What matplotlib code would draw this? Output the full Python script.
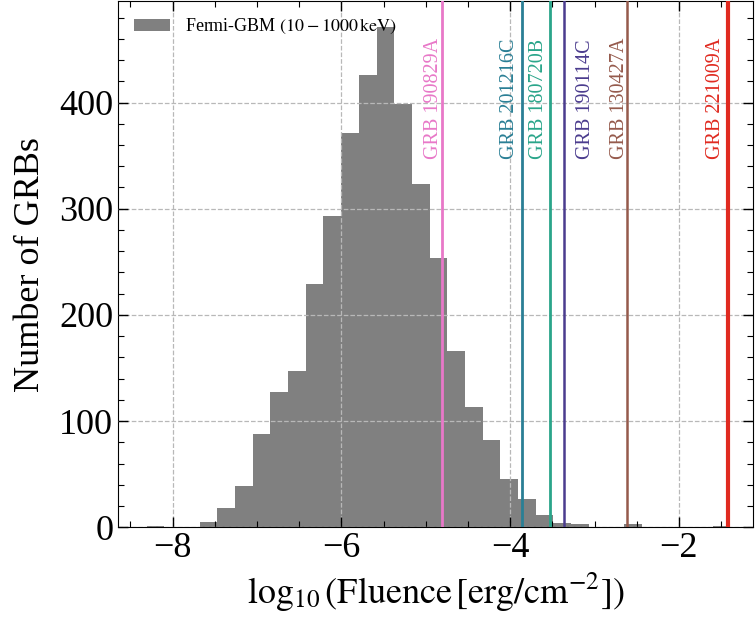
import numpy as np
import matplotlib.pyplot as plt
from matplotlib.ticker import MultipleLocator

plt.rcParams['font.family'] = ['Liberation Serif', 'DejaVu Serif']
plt.rcParams['mathtext.fontset'] = 'stix'

# histogram of Fermi-GBM fluences
bin_start = -8.31
bin_width = 0.2097
counts = [1, 0, 0, 5, 18, 39, 88, 127, 147, 229, 293, 371, 426, 471, 399,
          323, 254, 166, 113, 82, 45, 27, 12, 4, 3, 0, 0, 3, 0, 0, 0, 0, 1]
edges = bin_start + bin_width * np.arange(len(counts) + 1)

# bright GRBs
grb_names = ['GRB 190829A', 'GRB 201216C', 'GRB 180720B',
             'GRB 190114C', 'GRB 130427A', 'GRB 221009A']
grb_fluence = [-4.81, -3.865, -3.526, -3.356, -2.609, -1.412]
grb_colors = ['#e878c8', '#2a7f95', '#2aa58a', '#4b3c8e', '#955a4c', '#e02a20']
grb_lw = [2, 2, 2, 1.8, 1.8, 3]
label_dx = [-0.10, -0.148, -0.132, 0.245, -0.097, -0.157]

fig = plt.figure(figsize=(7.55, 6.28), dpi=100)
ax = fig.add_axes([0.1563, 0.1604, 0.8411, 0.8380])

ax.hist(edges[:-1], bins=edges, weights=counts, color='gray',
        label=r'Fermi-GBM $(10-1000\,\mathrm{keV})$', zorder=1)
ax.grid(True, which='major', linestyle='--', color='#b8b8b8', linewidth=0.9, zorder=2)
ax.set_axisbelow(False)

for name, xv, c, lw, dx in zip(grb_names, grb_fluence, grb_colors, grb_lw, label_dx):
    ax.axvline(xv, color=c, lw=lw, zorder=3)
    ax.text(xv + dx, 347, name, rotation=90, color=c, fontsize=14.5,
            ha='center', va='bottom', zorder=4)

ax.set_xlim(-8.648, -1.121)
ax.set_ylim(0, 495.6)
ax.xaxis.set_major_locator(MultipleLocator(2))
ax.xaxis.set_minor_locator(MultipleLocator(0.5))
ax.yaxis.set_major_locator(MultipleLocator(100))
ax.yaxis.set_minor_locator(MultipleLocator(20))
ax.tick_params(which='both', direction='in', top=True, right=True, labelsize=26)
ax.tick_params(which='major', length=7, width=1)
ax.tick_params(which='minor', length=4, width=0.8)

ax.set_xlabel(r'$\log_{10}(\mathrm{Fluence\,[erg/cm^{-2}]})$', fontsize=26)
ax.set_ylabel('Number of GRBs', fontsize=26, labelpad=9)
ax.legend(loc='upper left', frameon=False, fontsize=13)

fig.savefig('out.png', dpi=100)
